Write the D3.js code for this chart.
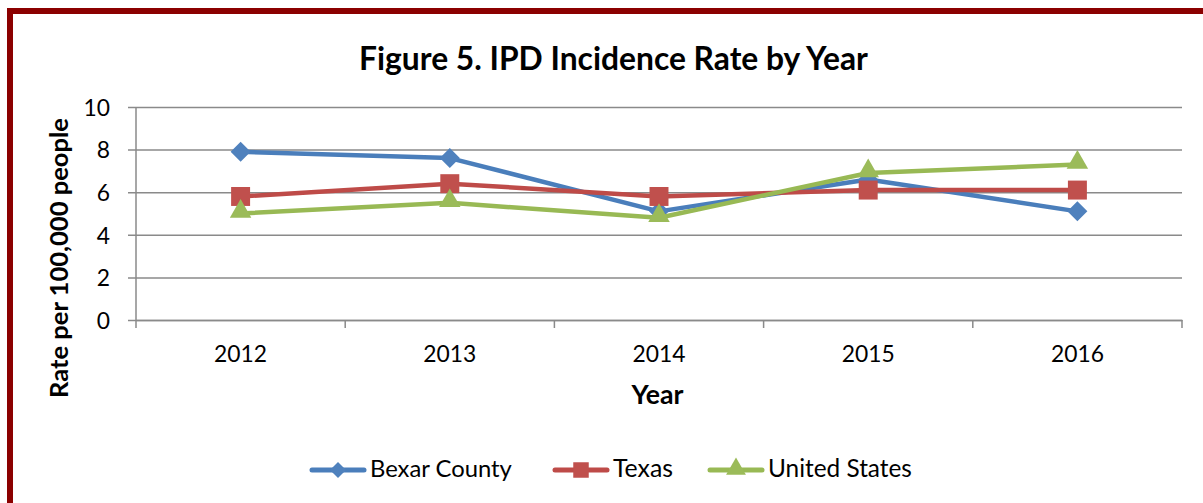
<!DOCTYPE html>
<html>
<head>
<meta charset="utf-8">
<script src="https://cdn.jsdelivr.net/npm/d3@7"></script>
<style>
  body { margin: 0; background: #fff; }
  svg text { font-family: Lato, "Open Sans", sans-serif; fill: #000; }
</style>
</head>
<body>
<svg id="chart" width="1203" height="503"></svg>
<script>
// chart data
var years = ["2012", "2013", "2014", "2015", "2016"];
var bexar = [7.9, 7.6, 5.1, 6.6, 5.1];
var texas = [5.8, 6.4, 5.8, 6.1, 6.1];
var us = [5.0, 5.5, 4.8, 6.9, 7.3];
var y_ticks = [0, 2, 4, 6, 8, 10];
var series_names = ["Bexar County", "Texas", "United States"];

var line_cols = ["#4a7ebb", "#be4b48", "#98b954"];
var mark_cols = ["#4f81bd", "#c0504d", "#9bbb59"];
// diamond = square turned 45 degrees
var shapes = [d3.symbolSquare, d3.symbolSquare, d3.symbolTriangle];
var turns = [45, 0, 0];
var grid_col = "#8a8a8a";

var svg = d3.select("#chart");

// scale font size so a text hits a measured width
function fit_text (sel, w) {
  var fs = parseFloat(sel.style("font-size"));
  var len = sel.node().getComputedTextLength();
  sel.style("font-size", (fs * w / len) + "px");
  return fs * w / len;
}

// dark red frame, runs off the right and bottom
svg.append("rect")
   .attr("x", 10).attr("y", 11)
   .attr("width", 1260).attr("height", 560)
   .attr("fill", "none")
   .attr("stroke", "#8b0000")
   .attr("stroke-width", 6);

var p_left = 136, p_right = 1182, p_top = 107, p_bottom = 320;

var x = d3.scaleBand().domain(years).range([p_left, p_right]).padding(0);
var y = d3.scaleLinear().domain([0, 10]).range([p_bottom, p_top]);
function cx (d, i) { return x(years[i]) + x.bandwidth() / 2; }

// y axis + gridlines
var yax = svg.append("g")
   .attr("transform", "translate(" + p_left + ",0)")
   .call(d3.axisLeft(y).tickValues(y_ticks).tickSizeOuter(0).tickSizeInner(0).tickPadding(26));
yax.select(".domain").remove();
yax.selectAll(".tick line")
   .attr("x1", -8).attr("x2", p_right - p_left)
   .attr("stroke", grid_col).attr("stroke-width", 1.5);
yax.selectAll(".tick text").attr("font-size", 20).attr("dy", "0.36em");

// vertical axis line
svg.append("line")
   .attr("x1", p_left).attr("x2", p_left)
   .attr("y1", p_top).attr("y2", p_bottom)
   .attr("stroke", grid_col).attr("stroke-width", 1.5);

// x axis
var xax = svg.append("g")
   .attr("transform", "translate(0," + p_bottom + ")")
   .call(d3.axisBottom(x).tickSize(0).tickPadding(0));
xax.select(".domain")
   .attr("stroke", grid_col).attr("stroke-width", 1.5);
xax.selectAll(".tick text").attr("font-size", 20).attr("dy", 42);

// ticks on the category boundaries
var bounds = years.map(function (d) { return x(d); }).concat([p_right]);
svg.selectAll(".xtick").data(bounds).enter().append("line")
   .attr("class", "xtick")
   .attr("x1", function (d) { return d; }).attr("x2", function (d) { return d; })
   .attr("y1", p_bottom).attr("y2", p_bottom + 8)
   .attr("stroke", grid_col).attr("stroke-width", 1.5);

var tfs = fit_text(xax.select(".tick text"), 53);
xax.selectAll(".tick text").style("font-size", tfs + "px");
yax.selectAll(".tick text").style("font-size", tfs + "px");

// series
var all = [bexar, texas, us];
var line = d3.line().x(cx).y(function (d) { return y(d); });
var sizes = [200, 360, 200];
var lifts = [0, 0, -2];

all.forEach(function (vals, k) {
  svg.append("path")
     .datum(vals)
     .attr("d", line)
     .attr("fill", "none")
     .attr("stroke", line_cols[k])
     .attr("stroke-width", 4.5)
     .attr("stroke-linejoin", "round");
  svg.selectAll(".m" + k).data(vals).enter().append("path")
     .attr("class", "m" + k)
     .attr("transform", function (d, i) {
       return "translate(" + cx(d, i) + "," + (y(d) + lifts[k]) + ") rotate(" + turns[k] + ")";
     })
     .attr("d", d3.symbol().type(shapes[k]).size(sizes[k]))
     .attr("fill", mark_cols[k]);
});

// titles
var title = svg.append("text")
   .attr("x", 613.5).attr("y", 70)
   .attr("text-anchor", "middle")
   .attr("font-weight", "bold")
   .attr("font-size", 28)
   .text("Figure 5. IPD Incidence Rate by Year");
fit_text(title, 509);

var ylab = svg.append("text")
   .attr("transform", "translate(68,258) rotate(-90)")
   .attr("text-anchor", "middle")
   .attr("font-weight", "bold")
   .attr("font-size", 22)
   .text("Rate per 100,000 people");
fit_text(ylab, 280);

var xlab = svg.append("text")
   .attr("x", 657.5).attr("y", 404)
   .attr("text-anchor", "middle")
   .attr("font-weight", "bold")
   .attr("font-size", 22)
   .text("Year");
fit_text(xlab, 52);

// legend
var leg_x = [310, 553, 708];
var leg_w = [142, 60, 144];
var leg_y = 470;
var legend_sizes = [130, 240, 170];
series_names.forEach(function (name, k) {
  var g = svg.append("g").attr("transform", "translate(" + leg_x[k] + "," + leg_y + ")");
  g.append("line")
   .attr("x1", 2).attr("x2", 54)
   .attr("stroke", line_cols[k]).attr("stroke-width", 5)
   .attr("stroke-linecap", "round");
  g.append("path")
   .attr("transform", "translate(28," + (k == 2 ? -1 : 0) + ") rotate(" + turns[k] + ")")
   .attr("d", d3.symbol().type(shapes[k]).size(legend_sizes[k]))
   .attr("fill", mark_cols[k]);
  var t = g.append("text")
   .attr("x", 60).attr("y", 7)
   .attr("font-size", 20)
   .text(name);
  fit_text(t, leg_w[k]);
});
</script>
</body>
</html>
